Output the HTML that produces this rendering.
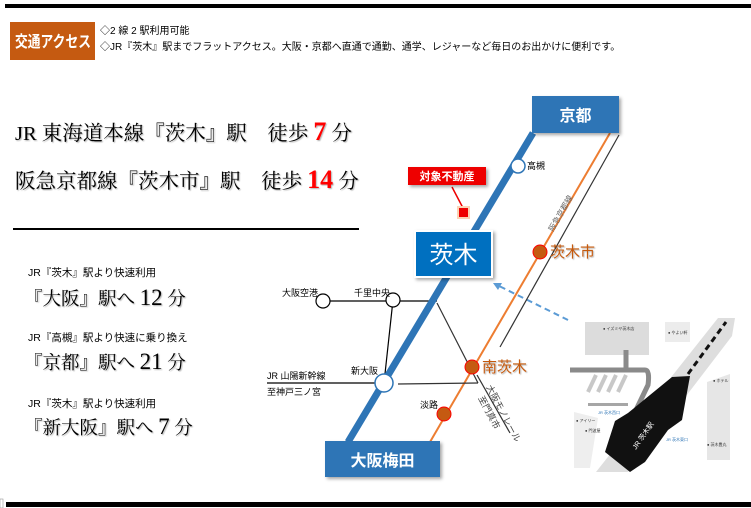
<!DOCTYPE html>
<html><head><meta charset="utf-8">
<style>
html,body{margin:0;padding:0;background:#fff;}
body{width:751px;height:508px;overflow:hidden;position:relative;}
svg{position:absolute;left:0;top:0;}
.s{font-family:"Liberation Serif","Noto Serif CJK SC","Noto Sans CJK JP",serif;}
.g{font-family:"Liberation Sans","Noto Sans CJK JP",sans-serif;}
</style></head><body>
<svg width="751" height="508" viewBox="0 0 751 508" xmlns="http://www.w3.org/2000/svg">
<defs>
<filter id="sh" x="-10%" y="-10%" width="130%" height="140%"><feDropShadow dx="2" dy="2" stdDeviation="1.5" flood-color="#000" flood-opacity="0.35"/></filter>
<filter id="ts"><feDropShadow dx="1" dy="1" stdDeviation="0.6" flood-color="#000" flood-opacity="0.3"/></filter>
</defs>
<rect x="5" y="4" width="746" height="4" fill="#000"/>
<rect x="6" y="502" width="745" height="5" fill="#000"/>
<rect x="0" y="499" width="3" height="9" fill="none" stroke="#999" stroke-width="0.6"/>

<rect x="10" y="22" width="85" height="38" fill="#c55a11"/>
<text x="15" y="47" textLength="76" lengthAdjust="spacingAndGlyphs" class="g" font-size="16" font-weight="bold" fill="#fff">交通アクセス</text>
<text x="100" y="34" class="g" font-size="10" fill="#000">◇2 線 2 駅利用可能</text>
<text x="100" y="50" class="g" font-size="10" fill="#000">◇JR『茨木』駅までフラットアクセス。大阪・京都へ直通で通勤、通学、レジャーなど毎日のお出かけに便利です。</text>

<g class="s" filter="url(#ts)" fill="#000">
<text x="15" y="140" font-size="20.5">JR 東海道本線『茨木』駅　徒歩 <tspan fill="#f00" font-size="26" font-weight="bold">7</tspan> 分</text>
<text x="15" y="188" font-size="20.5">阪急京都線『茨木市』駅　徒歩 <tspan fill="#f00" font-size="26" font-weight="bold">14</tspan> 分</text>
</g>
<rect x="13" y="228" width="346" height="2" fill="#000"/>

<g class="g" font-size="10.5" fill="#000">
<text x="28" y="276">JR『茨木』駅より快速利用</text>
<text x="28" y="341">JR『高槻』駅より快速に乗り換え</text>
<text x="28" y="407">JR『茨木』駅より快速利用</text>
</g>
<g class="s" filter="url(#ts)" fill="#000" font-size="18.5">
<text x="24" y="305">『大阪』駅へ <tspan font-size="23">12</tspan> 分</text>
<text x="24" y="369">『京都』駅へ <tspan font-size="23">21</tspan> 分</text>
<text x="24" y="434">『新大阪』駅へ <tspan font-size="23">7</tspan> 分</text>
</g>

<!-- map photo -->
<g>
<rect x="570" y="318" width="170" height="155" fill="#fff"/>
<rect x="585" y="322" width="64" height="33" fill="#dcdcdc"/>
<rect x="665" y="322" width="25" height="20" fill="#ececec"/>
<path d="M570 370 L645 370 Q650 370 648 385 L636 410" fill="none" stroke="#8a8a8a" stroke-width="5"/>
<path d="M626 350 L626 372" stroke="#8a8a8a" stroke-width="5"/>
<g stroke="#c8c8c8" stroke-width="4"><line x1="598" y1="392" x2="606" y2="375"/><line x1="608" y1="392" x2="616" y2="375"/><line x1="618" y1="392" x2="626" y2="375"/><line x1="588" y1="392" x2="596" y2="375"/></g>
<rect x="588" y="403" width="40" height="3" fill="#a6a6a6"/>
<path d="M596 472 L628 472 L732 336 L735 318 L718 318 Z" fill="#dedede"/>
<path d="M707 382 L730 374 L730 460 L707 460 Z" fill="#e6e6e6"/>
<path d="M574 412 L598 418 L590 468 L574 468 Z" fill="#eeeeee"/>
<path d="M615 421 L628 413 L672 377 L690 376 L682 420 L668 430 L645 462 L630 472 L605 452 Z" fill="#111"/>
<line x1="688" y1="374" x2="726" y2="322" stroke="#111" stroke-width="3" stroke-dasharray="6,4"/>
<text x="0" y="0" transform="translate(636,450) rotate(-55)" class="g" font-size="7" fill="#fff">JR 茨木駅</text>
<g class="g" font-size="4" fill="#333">
<text x="603" y="330">● イズミヤ茨木店</text><text x="668" y="334">● やよい軒</text>
<text x="576" y="422">● アイリー</text><text x="585" y="432">● 門波屋</text>
<text x="707" y="446">● 茨木豊丸</text><text x="713" y="382">● ホテル</text>
</g>
<g class="g" font-size="4" fill="#2e75b6"><text x="598" y="414">JR 茨木西口</text><text x="666" y="441">JR 茨木東口</text></g>
</g>
<line x1="568" y1="320" x2="495" y2="284" stroke="#5b9bd5" stroke-width="2" stroke-dasharray="6,4"/>
<path d="M493 283 L502 283 L498 290 Z" fill="#5b9bd5"/>

<!-- lines -->
<line x1="619" y1="135" x2="500" y2="347" stroke="#333" stroke-width="1.2"/>
<line x1="610" y1="133" x2="430" y2="442" stroke="#ed7d31" stroke-width="2"/>
<line x1="437" y1="303" x2="478" y2="383" stroke="#333" stroke-width="1.2"/>
<line x1="477" y1="375" x2="510" y2="433" stroke="#333" stroke-width="1.2"/>
<line x1="323" y1="301" x2="437" y2="301" stroke="#000" stroke-width="1.2"/>
<line x1="393" y1="300" x2="384" y2="383" stroke="#000" stroke-width="1.2"/>
<line x1="267" y1="383" x2="384" y2="383" stroke="#000" stroke-width="1.2"/>
<line x1="398" y1="384" x2="478" y2="383" stroke="#333" stroke-width="1.2"/>
<line x1="348" y1="442" x2="533" y2="133" stroke="#2e75b6" stroke-width="7"/>

<text transform="translate(553,232) rotate(-60)" class="g" font-size="8" fill="#666">阪急京都線</text>
<text transform="translate(486,387) rotate(62)" class="g" font-size="9" fill="#444">大阪モノレール</text>
<text transform="translate(478,398) rotate(62)" class="g" font-size="9" fill="#444">至門真市</text>

<!-- stations -->
<g stroke-width="1.5">
<circle cx="518" cy="166" r="7" fill="#fff" stroke="#2e75b6"/>
<circle cx="323" cy="301" r="7" fill="#fff" stroke="#000" stroke-width="1.2"/>
<circle cx="393" cy="300" r="7" fill="#fff" stroke="#000" stroke-width="1.2"/>
<circle cx="384" cy="383" r="9" fill="#fff" stroke="#2e75b6"/>
<circle cx="540" cy="252" r="7" fill="#c55a11" stroke="#f00" stroke-width="1"/>
<circle cx="472" cy="367" r="7" fill="#c55a11" stroke="#f00" stroke-width="1"/>
<circle cx="444" cy="414" r="7" fill="#c55a11" stroke="#f00" stroke-width="1"/>
</g>
<g class="g" font-size="9" fill="#000">
<text x="527" y="169">高槻</text>
<text x="282" y="296">大阪空港</text>
<text x="354" y="296">千里中央</text>
<text x="351" y="374">新大阪</text>
<text x="267" y="379">JR 山陽新幹線</text>
<text x="267" y="395">至神戸三ノ宮</text>
<text x="420" y="408">淡路</text>
</g>
<g class="g" font-size="15" fill="#c55a11" filter="url(#ts)">
<text x="550" y="257">茨木市</text>
<text x="482" y="372">南茨木</text>
</g>

<!-- 対象不動産 -->
<line x1="452" y1="187" x2="463" y2="208" stroke="#e00" stroke-width="1.5"/>
<rect x="408" y="167" width="78" height="18" fill="#e00" filter="url(#sh)"/>
<text x="447" y="180" text-anchor="middle" class="g" font-size="11" font-weight="bold" fill="#fff">対象不動産</text>
<rect x="457" y="206" width="13" height="13" fill="#fbd3b5"/>
<rect x="459" y="208" width="9" height="9" fill="#e00"/>

<!-- boxes -->
<rect x="532" y="96" width="87" height="37" fill="#2e75b6" filter="url(#sh)"/>
<text x="575.5" y="121" text-anchor="middle" class="g" font-size="16" font-weight="bold" fill="#fff">京都</text>
<rect x="325" y="441" width="115" height="36" fill="#2e75b6" filter="url(#sh)"/>
<text x="382.5" y="466" text-anchor="middle" class="g" font-size="16" font-weight="bold" fill="#fff">大阪梅田</text>
<rect x="415" y="231" width="77" height="46" fill="#0070c0" stroke="#fff" stroke-width="2" filter="url(#sh)"/>
<text x="453.5" y="263" text-anchor="middle" class="g" font-size="24" fill="#fff">茨木</text>
</svg>
</body></html>
